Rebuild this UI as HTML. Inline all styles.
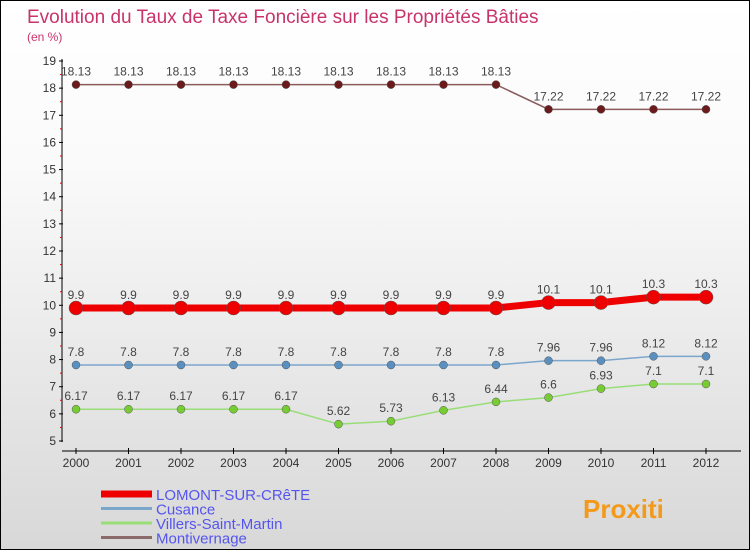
<!DOCTYPE html>
<html><head><meta charset="utf-8"><style>
body{margin:0}
#c{width:748px;height:548px;border:1px solid #000;background:linear-gradient(#fff,#fafafa 30%,#d8d8d8);position:relative;font-family:"Liberation Sans",sans-serif}
svg{position:absolute;left:0;top:0}
</style></head><body>
<div id="c">
<svg id="s" width="748" height="548"></svg>
</div>
<script>
const years=[2000,2001,2002,2003,2004,2005,2006,2007,2008,2009,2010,2011,2012];
const lomont=[9.9,9.9,9.9,9.9,9.9,9.9,9.9,9.9,9.9,10.1,10.1,10.3,10.3];
const cusance=[7.8,7.8,7.8,7.8,7.8,7.8,7.8,7.8,7.8,7.96,7.96,8.12,8.12];
const villers=[6.17,6.17,6.17,6.17,6.17,5.62,5.73,6.13,6.44,6.6,6.93,7.1,7.1];
const montiv=[18.13,18.13,18.13,18.13,18.13,18.13,18.13,18.13,18.13,17.22,17.22,17.22,17.22];
const yTicks=[5,6,7,8,9,10,11,12,13,14,15,16,17,18,19];
const seriesNames=["LOMONT-SUR-CRêTE","Cusance","Villers-Saint-Martin","Montivernage"];
const s=document.getElementById('s');const NS='http://www.w3.org/2000/svg';
function el(t,a,p){const e=document.createElementNS(NS,t);for(const k in a)e.setAttribute(k,a[k]);(p||s).appendChild(e);return e;}
const X=i=>75+i*52.5, Y=v=>440-(v-5)*(380/14);
let t=el('text',{x:26,y:22,fill:'#c8336a','font-size':19});t.textContent='Evolution du Taux de Taxe Foncière sur les Propriétés Bâties';


t=el('text',{x:26,y:40,fill:'#c8336a','font-size':12});t.textContent='(en %)';


let a=el('line',{x1:61,y1:58,x2:61,y2:441,stroke:'#000'});


a=el('line',{x1:61,y1:450,x2:740,y2:450,stroke:'#000'});


yTicks.forEach(v=>{el('line',{x1:58,x2:62,y1:Y(v),y2:Y(v),stroke:'#000'});
 if(v<19)el('line',{x1:59,x2:61,y1:Y(v+0.5),y2:Y(v+0.5),stroke:'#e00'});
 const l=el('text',{x:55,y:Y(v)+4,'text-anchor':'end','font-size':12,fill:'#333'});l.textContent=v;
 
 });
years.forEach((y,i)=>{el('line',{x1:X(i),x2:X(i),y1:447,y2:453,stroke:'#000'});
 const l=el('text',{x:X(i),y:466,'text-anchor':'middle','font-size':12,fill:'#333'});l.textContent=y;
 
 });
function series(d,col,dot,w,r,name){
 const g=el('g',{});
 
 
 el('polyline',{points:d.map((v,i)=>X(i)+','+Y(v)).join(' '),fill:'none',stroke:col,'stroke-width':w},g);
 d.forEach((v,i)=>{const c=el('circle',{cx:X(i),cy:Y(v),r:r,fill:dot,stroke:'#555','stroke-width':0.5},g);
  
  
  const l=el('text',{x:X(i),y:Y(v)-9,'text-anchor':'middle','font-size':12,fill:'#444'},g);l.textContent=v;
  
  });
}
series(montiv,'#8b5a5a','#6b1b1b',1.5,4,'series-montivernage');
series(villers,'#99dd77','#77cc33',1.5,4,'series-villers');
series(cusance,'#7aa6cc','#5a90c0',1.5,4,'series-cusance');
series(lomont,'#ee0000','#ee0000',7,7,'series-lomont');
const lc=['#ee0000','#7aa6cc','#99dd77','#8b6a6a'],lw=[7,3,3,3];
seriesNames.forEach((n,i)=>{const y=493+i*14.5;
 const g=el('g',{});
 
 
 el('line',{x1:100,x2:151,y1:y,y2:y,stroke:lc[i],'stroke-width':lw[i]},g);
 const l=el('text',{x:155,y:y+6,'font-size':15,fill:'#5555ee'},g);l.textContent=n;});
t=el('text',{x:582,y:517,'font-size':26,'font-weight':'bold',fill:'#f39a1a'});t.textContent='Proxiti';


</script>
</body></html>
